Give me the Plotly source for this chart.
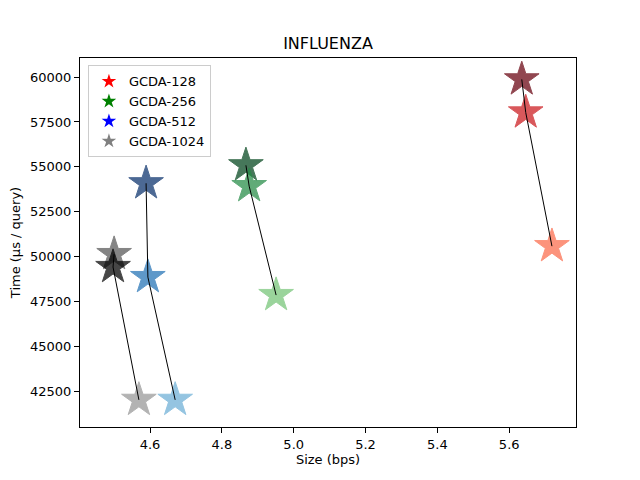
import plotly.graph_objects as go

# three runs per config: (size bps, time us/query), dark -> light
groups = ["GCDA-128", "GCDA-256", "GCDA-512", "GCDA-1024"]
legend_colors = ["red", "green", "blue", "gray"]

size_128 = [5.635, 5.646, 5.719]
time_128 = [59870, 58030, 50590]
size_256 = [4.867, 4.876, 4.951]
time_256 = [55090, 53930, 47870]
size_512 = [4.589, 4.594, 4.670]
time_512 = [54090, 48870, 42040]
size_1024 = [4.500, 4.497, 4.569]
time_1024 = [50150, 49430, 42040]

shades_128 = ["#67000d", "#cb181d", "#fb6a4a"]
shades_256 = ["#00441b", "#238b45", "#74c476"]
shades_512 = ["#08306b", "#2171b5", "#6baed6"]
shades_1024 = ["#555555", "#000000", "#969696"]

data = [
    (size_128, time_128, shades_128),
    (size_256, time_256, shades_256),
    (size_512, time_512, shades_512),
    (size_1024, time_1024, shades_1024),
]

fig = go.Figure()

# legend-only entries
for name, c in zip(groups, legend_colors):
    fig.add_trace(go.Scatter(
        x=[None], y=[None], mode="markers", name=name,
        marker=dict(symbol="star", size=11, color=c, line=dict(width=0)),
    ))

for xs, ys, shades in data:
    fig.add_trace(go.Scatter(
        x=xs, y=ys, mode="markers", showlegend=False,
        marker=dict(symbol="star", size=26, color=shades, opacity=0.72,
                    line=dict(width=1, color=shades)),
    ))
    fig.add_trace(go.Scatter(
        x=xs, y=ys, mode="lines", showlegend=False,
        line=dict(color="black", width=1),
    ))

axis_style = dict(
    showline=True, mirror=True, linecolor="black", linewidth=1,
    ticks="outside", ticklen=5, tickcolor="black", showgrid=False,
    zeroline=False, tickfont=dict(size=13, color="black"), automargin=False,
)

# page body has an 8px margin, so the figure is shifted; size it to fit
fig.update_layout(
    width=632, height=472,
    margin=dict(l=72, r=64, t=50, b=53),
    plot_bgcolor="white", paper_bgcolor="white",
    font=dict(family="DejaVu Sans", color="black"),
    title=dict(text="INFLUENZA", x=320 / 632, xanchor="center",
               y=1 - 35 / 472, yanchor="middle", font=dict(size=16)),
    legend=dict(x=0.016, y=0.98, xanchor="left", yanchor="top",
                bordercolor="#cccccc", borderwidth=1, bgcolor="rgba(255,255,255,0.8)",
                font=dict(size=13), tracegroupgap=0),
)
fig.update_xaxes(range=[4.405, 5.786], dtick=0.2, tickformat=".1f",
                 title=dict(text="Size (bps)", font=dict(size=13), standoff=4), **axis_style)
fig.update_yaxes(range=[40530, 61060], dtick=2500, tickformat="d",
                 title=dict(text="Time (µs / query)", font=dict(size=13), standoff=12), **axis_style)

fig.write_html("out.html")
